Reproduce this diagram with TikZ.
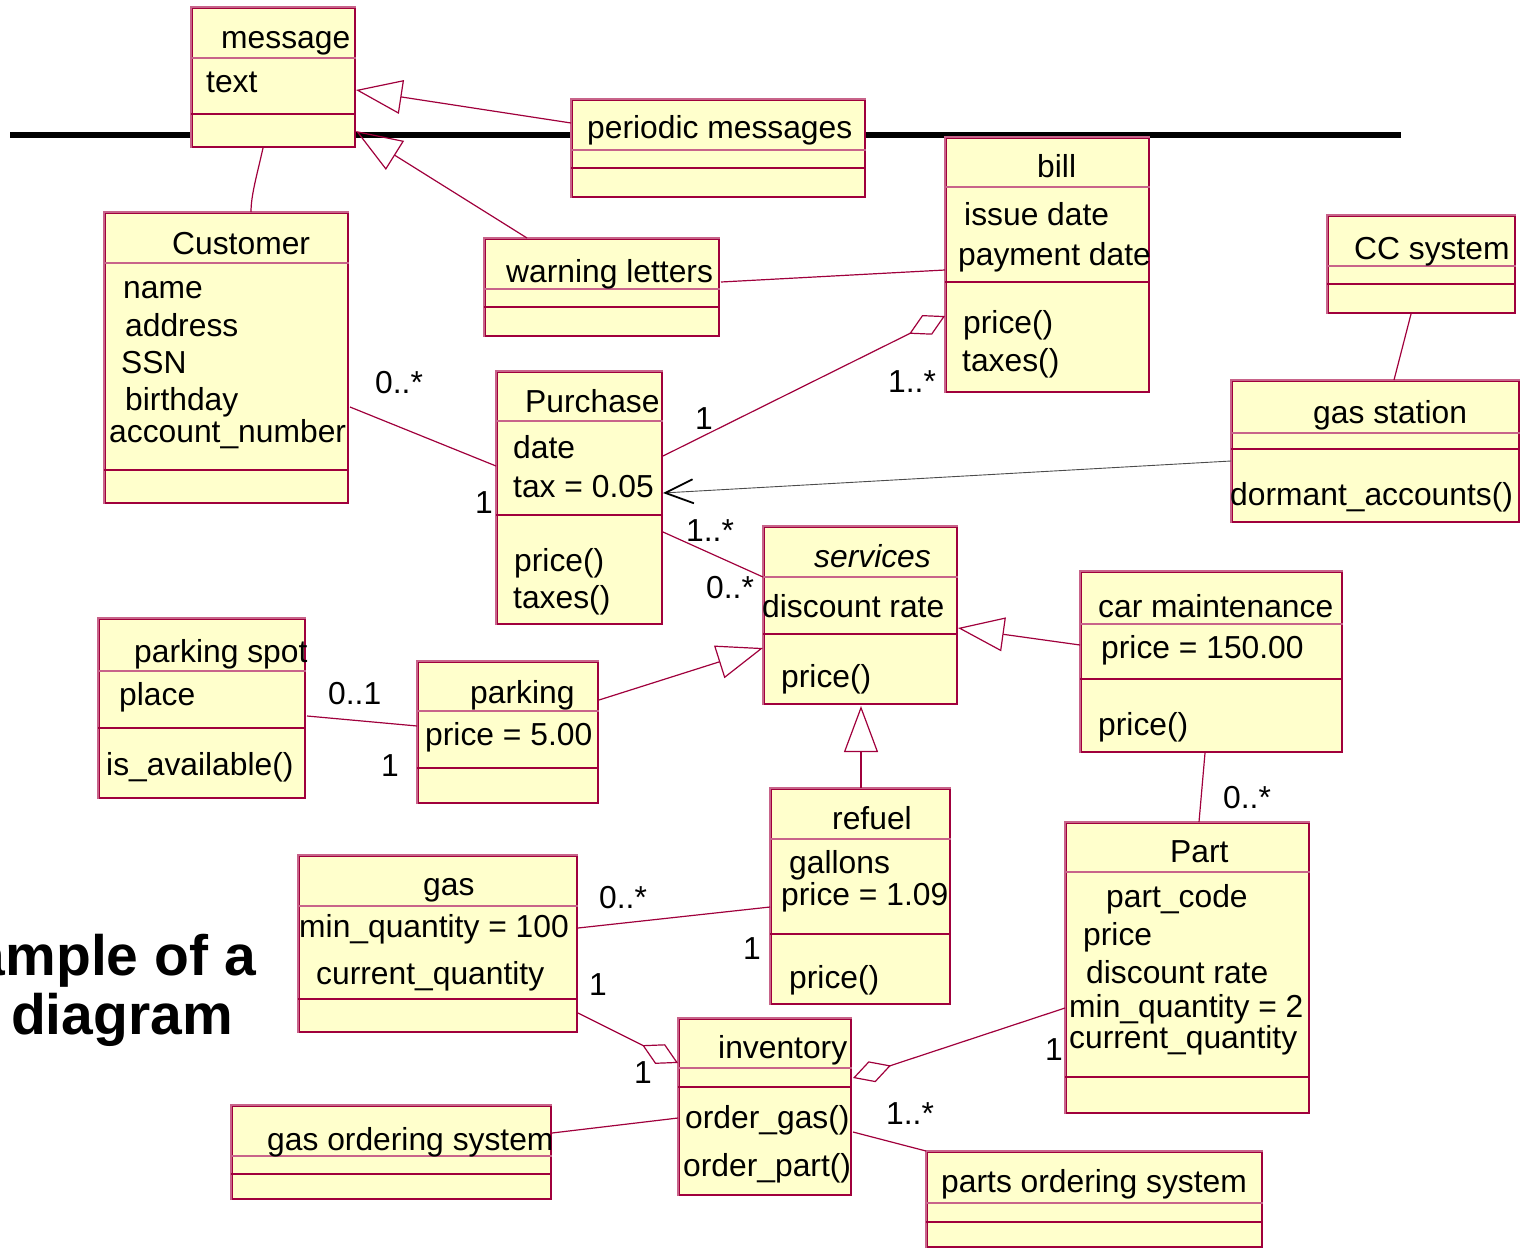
\documentclass[tikz,border=0pt]{standalone}
\usepackage{fontspec}
\setmainfont{Liberation Sans}
\usetikzlibrary{arrows.meta,fit}

\definecolor{classfill}{HTML}{FFFFCC}
\definecolor{classline}{HTML}{A0003C}
\definecolor{classlight}{HTML}{C8648A}

\tikzset{
  classbox/.style={draw=classline, line width=2pt, fill=classfill, inner sep=0pt, rectangle},
  lightedge/.style={draw=classlight, line width=1.4pt},
  headsep/.style={draw=classlight, line width=1.3pt},
  sepline/.style={draw=classline, line width=1.3pt},
  txt/.style={inner sep=0pt, anchor=base west, font=\fontsize{31.8}{37}\selectfont},
  mult/.style={txt},
  titletxt/.style={inner sep=0pt, anchor=base east, font=\fontsize{57}{62}\selectfont\bfseries},
  assoc/.style={draw=classline, line width=1.2pt},
  inherit/.style={assoc, -{Triangle[open, length=46pt, width=34pt]}},
  aggr/.style={assoc, -{Diamond[open, length=40pt, width=22pt]}},
  navig/.style={draw=black!70, line width=0.9pt,
    -{Straight Barb[length=28pt, width=24pt, line width=1.8pt, color=black]}},
}

% class box: name, x1, y1, x2, y2, header separator, attribute separator
\newcommand\drawclass[7]{%
  \node[classbox, fit={(#2,#3) (#4,#5)}] (#1) {};
  \draw[lightedge] (#1.south west) -- (#1.north west) -- (#1.north east);
  \draw[headsep] (#1.west |- 0,#6) -- (#1.east |- 0,#6);
  \draw[sepline] (#1.west |- 0,#7) -- (#1.east |- 0,#7);
}

\begin{document}
\begin{tikzpicture}[x=1pt,y=-1pt]
\useasboundingbox (0,0) rectangle (1523,1250);

% heavy rule across the top
\coordinate (ruleL) at (10,135);
\coordinate (ruleR) at (1401,135);
\draw[line width=5.5pt] (ruleL) -- (ruleR);

% title, running off the left edge
\begin{scope}
  \clip (0,0) rectangle (1523,1250);
  \node[titletxt] (title1) at (256,975) {ample of a};
  \node[titletxt] (title2) at (233,1034) {diagram};
\end{scope}

% classes
\drawclass{message}{192}{8}{355}{147}{58}{114}
\drawclass{periodic}{572}{100}{865}{197}{150}{168}
\drawclass{warning}{485}{239}{719}{336}{289}{307}
\drawclass{customer}{105}{213}{348}{503}{263}{470}
\drawclass{purchase}{497}{372}{662}{624}{421}{515}
\drawclass{bill}{946}{138}{1149}{392}{187}{282}
\drawclass{cc}{1328}{216}{1515}{313}{266}{284}
\drawclass{station}{1232}{381}{1519}{522}{433}{449}
\drawclass{services}{764}{527}{957}{704}{577}{634}
\drawclass{carmaint}{1081}{572}{1342}{752}{624}{679}
\drawclass{parkspot}{99}{619}{305}{798}{671}{728}
\drawclass{parking}{418}{662}{598}{803}{711}{768}
\drawclass{refuel}{771}{789}{950}{1004}{839}{934}
\drawclass{gas}{299}{856}{577}{1032}{906}{999}
\drawclass{part}{1066}{823}{1309}{1113}{872}{1077}
\drawclass{inventory}{679}{1019}{851}{1195}{1068}{1087}
\drawclass{gasorder}{232}{1106}{551}{1199}{1156}{1174}
\drawclass{partsorder}{927}{1152}{1262}{1247}{1203}{1222}

% class texts
\node[txt] (message-n) at (221,48) {message};
\node[txt] (message-a) at (206,92) {text};
\node[txt] (periodic-n) at (587,138) {periodic messages};
\node[txt] (warning-n) at (506,282) {warning letters};
\node[txt] (customer-n) at (172,254) {Customer};
\node[txt] (customer-a1) at (123,298) {name};
\node[txt] (customer-a2) at (125,336) {address};
\node[txt] (customer-a3) at (121,373) {SSN};
\node[txt] (customer-a4) at (125,410) {birthday};
\node[txt] (customer-a5) at (109,442) {account\_number};
\node[txt] (bill-n) at (1037,177) {bill};
\node[txt] (bill-a1) at (964,225) {issue date};
\node[txt] (bill-a2) at (958,265) {payment date};
\node[txt] (bill-o1) at (963,333) {price()};
\node[txt] (bill-o2) at (962,371) {taxes()};
\node[txt] (cc-n) at (1354,259) {CC system};
\node[txt] (station-n) at (1313,423) {gas station};
\node[txt] (station-o) at (1230,505) {dormant\_accounts()};
\node[txt] (purchase-n) at (525,412) {Purchase};
\node[txt] (purchase-a1) at (513,458) {date};
\node[txt] (purchase-a2) at (513,497) {tax = 0.05};
\node[txt] (purchase-o1) at (514,571) {price()};
\node[txt] (purchase-o2) at (513,608) {taxes()};
\node[txt] (services-n) at (814,567) {\itshape services};
\node[txt] (services-a) at (762,617) {discount rate};
\node[txt] (services-o) at (781,687) {price()};
\node[txt] (carmaint-n) at (1098,617) {car maintenance};
\node[txt] (carmaint-a) at (1101,658) {price = 150.00};
\node[txt] (carmaint-o) at (1098,735) {price()};
\node[txt] (parkspot-n) at (134,662) {parking spot};
\node[txt] (parkspot-a) at (119,705) {place};
\node[txt] (parkspot-o) at (106,775) {is\_available()};
\node[txt] (parking-n) at (470,703) {parking};
\node[txt] (parking-a) at (425,745) {price = 5.00};
\node[txt] (refuel-n) at (832,829) {refuel};
\node[txt] (refuel-a1) at (789,873) {gallons};
\node[txt] (refuel-a2) at (781,905) {price = 1.09};
\node[txt] (refuel-o) at (789,988) {price()};
\node[txt] (gas-n) at (423,895) {gas};
\node[txt] (gas-a1) at (299,937) {min\_quantity = 100};
\node[txt] (gas-a2) at (316,984) {current\_quantity};
\node[txt] (part-n) at (1170,862) {Part};
\node[txt] (part-a1) at (1106,907) {part\_code};
\node[txt] (part-a2) at (1083,945) {price};
\node[txt] (part-a3) at (1086,983) {discount rate};
\node[txt] (part-a4) at (1069,1017) {min\_quantity = 2};
\node[txt] (part-a5) at (1069,1048) {current\_quantity};
\node[txt] (inventory-n) at (718,1058) {inventory};
\node[txt] (inventory-o1) at (685,1128) {order\_gas()};
\node[txt] (inventory-o2) at (683,1176) {order\_part()};
\node[txt] (gasorder-n) at (267,1150) {gas ordering system};
\node[txt] (partsorder-n) at (941,1192) {parts ordering system};

% generalizations
\draw[inherit] (periodic.west |- 0,123) -- (message.east |- 0,90);
\draw[inherit] (527,0 |- warning.north) -- (message.east |- 0,131);
\draw[inherit] (carmaint.west |- 0,645) -- (services.east |- 0,628);
\draw[inherit] (861,0 |- refuel.north) -- (861,706);
\draw[inherit] (parking.east |- 0,700) -- (services.west |- 0,648);

% associations
\draw[assoc] (263,0 |- message.south) .. controls (257,175) and (251,195) .. (251,0 |- customer.north);
\draw[assoc] (350,407) -- (purchase.west |- 0,466);
\draw[assoc] (721,282) -- (bill.west |- 0,270);
\draw[aggr] (purchase.east |- 0,456) -- (bill.west |- 0,316);
\draw[assoc] (1411,0 |- cc.south) -- (1394,0 |- station.north);
\draw[navig] (station.west |- 0,461) -- (purchase.east |- 0,493);
\draw[assoc] (purchase.east |- 0,532) -- (services.west |- 0,577);
\draw[assoc] (307,716) -- (parking.west |- 0,726);
\draw[assoc] (1205,0 |- carmaint.south) -- (1199,0 |- part.north);
\draw[assoc] (gas.east |- 0,928) -- (refuel.west |- 0,907);
\draw[aggr] (gas.east |- 0,1013) -- (inventory.west |- 0,1063);
\draw[aggr] (part.west |- 0,1008) -- (853,1078);
\draw[assoc] (inventory.west |- 0,1118) -- (gasorder.east |- 0,1133);
\draw[assoc] (853,1132) -- (partsorder.north west);

% multiplicities
\node[mult] (m-cust) at (375,393) {0..*};
\node[mult] (m-purch1) at (475,513) {1};
\node[mult] (m-purch2) at (695,429) {1};
\node[mult] (m-bill) at (888,392) {1..*};
\node[mult] (m-purch3) at (686,541) {1..*};
\node[mult] (m-serv) at (706,598) {0..*};
\node[mult] (m-spot) at (328,704) {0..1};
\node[mult] (m-park) at (381,776) {1};
\node[mult] (m-part1) at (1223,808) {0..*};
\node[mult] (m-gas1) at (599,908) {0..*};
\node[mult] (m-refuel) at (743,959) {1};
\node[mult] (m-gas2) at (589,995) {1};
\node[mult] (m-inv1) at (634,1083) {1};
\node[mult] (m-part2) at (1045,1060) {1};
\node[mult] (m-inv2) at (886,1124) {1..*};
\end{tikzpicture}
\end{document}
